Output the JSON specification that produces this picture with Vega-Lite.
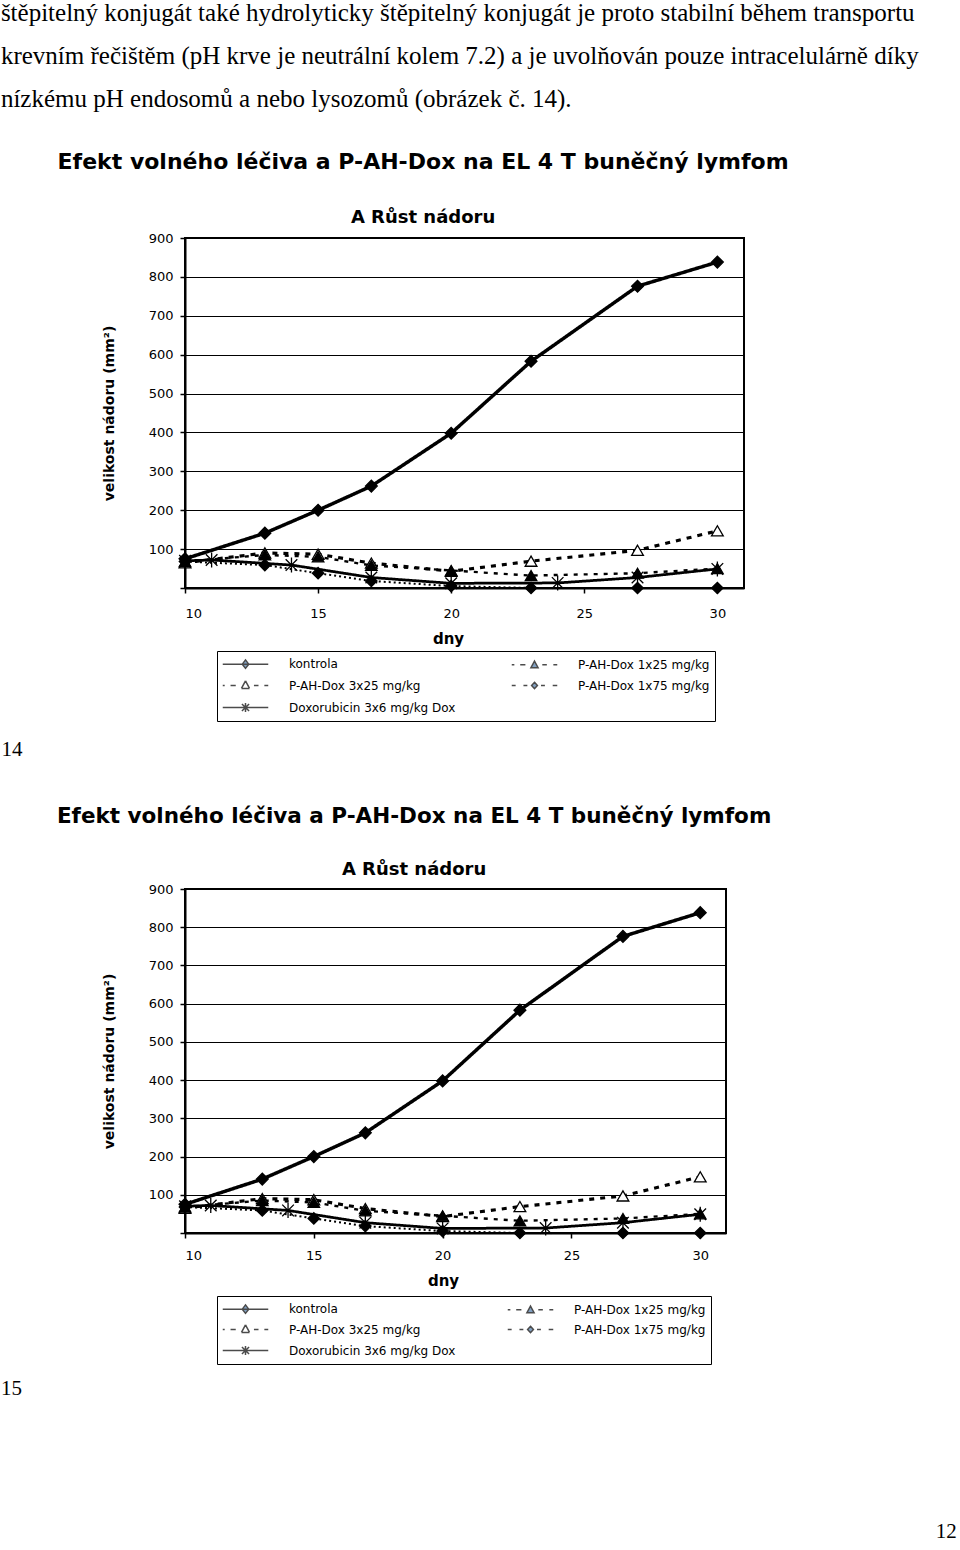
{
  "$schema": "https://vega.github.io/schema/vega-lite/v6.json",
  "background": "white",
  "padding": {"left": 0, "top": 1, "right": 0, "bottom": 0},
  "datasets": {
    "growth": [
      {"series": "kontrola", "day": 10, "value": 75},
      {"series": "kontrola", "day": 13, "value": 141},
      {"series": "kontrola", "day": 15, "value": 200},
      {"series": "kontrola", "day": 17, "value": 262},
      {"series": "kontrola", "day": 20, "value": 398},
      {"series": "kontrola", "day": 23, "value": 583},
      {"series": "kontrola", "day": 27, "value": 776},
      {"series": "kontrola", "day": 30, "value": 838},
      {"series": "P-AH-Dox 3x25 mg/kg", "day": 10, "value": 65},
      {"series": "P-AH-Dox 3x25 mg/kg", "day": 13, "value": 90},
      {"series": "P-AH-Dox 3x25 mg/kg", "day": 15, "value": 87},
      {"series": "P-AH-Dox 3x25 mg/kg", "day": 17, "value": 64},
      {"series": "P-AH-Dox 3x25 mg/kg", "day": 20, "value": 43},
      {"series": "P-AH-Dox 3x25 mg/kg", "day": 23, "value": 69},
      {"series": "P-AH-Dox 3x25 mg/kg", "day": 27, "value": 97},
      {"series": "P-AH-Dox 3x25 mg/kg", "day": 30, "value": 147},
      {"series": "P-AH-Dox 1x25 mg/kg", "day": 10, "value": 68},
      {"series": "P-AH-Dox 1x25 mg/kg", "day": 13, "value": 85},
      {"series": "P-AH-Dox 1x25 mg/kg", "day": 15, "value": 80},
      {"series": "P-AH-Dox 1x25 mg/kg", "day": 17, "value": 58},
      {"series": "P-AH-Dox 1x25 mg/kg", "day": 20, "value": 45},
      {"series": "P-AH-Dox 1x25 mg/kg", "day": 23, "value": 32},
      {"series": "P-AH-Dox 1x25 mg/kg", "day": 27, "value": 38},
      {"series": "P-AH-Dox 1x25 mg/kg", "day": 30, "value": 50},
      {"series": "P-AH-Dox 1x75 mg/kg", "day": 10, "value": 68},
      {"series": "P-AH-Dox 1x75 mg/kg", "day": 13, "value": 59},
      {"series": "P-AH-Dox 1x75 mg/kg", "day": 15, "value": 38},
      {"series": "P-AH-Dox 1x75 mg/kg", "day": 17, "value": 18},
      {"series": "P-AH-Dox 1x75 mg/kg", "day": 20, "value": 5},
      {"series": "P-AH-Dox 1x75 mg/kg", "day": 23, "value": 0},
      {"series": "P-AH-Dox 1x75 mg/kg", "day": 27, "value": 0},
      {"series": "P-AH-Dox 1x75 mg/kg", "day": 30, "value": 0},
      {"series": "Doxorubicin 3x6 mg/kg Dox", "day": 10, "value": 70},
      {"series": "Doxorubicin 3x6 mg/kg Dox", "day": 11, "value": 72},
      {"series": "Doxorubicin 3x6 mg/kg Dox", "day": 14, "value": 59},
      {"series": "Doxorubicin 3x6 mg/kg Dox", "day": 17, "value": 27},
      {"series": "Doxorubicin 3x6 mg/kg Dox", "day": 20, "value": 12},
      {"series": "Doxorubicin 3x6 mg/kg Dox", "day": 24, "value": 13},
      {"series": "Doxorubicin 3x6 mg/kg Dox", "day": 27, "value": 27},
      {"series": "Doxorubicin 3x6 mg/kg Dox", "day": 30, "value": 49}
    ]
  },
  "config": {
    "view": {"stroke": "black", "strokeWidth": 2},
    "axis": {
      "labelFont": "DejaVu Sans", "labelFontSize": 13, "labelColor": "black", "labelOverlap": false,
      "tickColor": "black", "tickSize": 5, "tickWidth": 1.5,
      "domainColor": "black", "domainWidth": 2,
      "titleFont": "DejaVu Sans", "titleFontWeight": "bold", "titleColor": "black"
    },
    "legend": {
      "labelFont": "DejaVu Sans", "labelFontSize": 12, "labelColor": "black"
    }
  },
  "title": {"text": "12", "orient": "bottom", "anchor": "end", "frame": "bounds", "font": "Liberation Serif", "fontSize": 21, "fontWeight": "normal", "color": "black", "offset": 122, "dx": 38},
  "vconcat": [
    {
      "title": {
        "text": [
          "štěpitelný konjugát také hydrolyticky štěpitelný konjugát je proto stabilní během transportu",
          "krevním řečištěm (pH krve je neutrální kolem 7.2) a je uvolňován pouze intracelulárně díky",
          "nízkému pH endosomů a nebo lysozomů (obrázek č. 14)."
        ],
        "anchor": "start", "frame": "bounds", "font": "Liberation Serif", "fontSize": 25, "fontWeight": "normal",
        "lineHeight": 43, "color": "black", "offset": 38, "dx": 0
      },
      "spacing": 44,
      "vconcat": [
        {
          "title": {"text": "14", "orient": "bottom", "anchor": "start", "frame": "bounds", "font": "Liberation Serif", "fontSize": 21, "fontWeight": "normal", "color": "black", "offset": 16, "dx": -55},
          "vconcat": [
            {
              "width": 559, "height": 350,
              "data": {"name": "growth"},
              "title": {
                "text": "Efekt volného léčiva a P-AH-Dox na EL 4 T buněčný lymfom",
                "subtitle": "A   Růst nádoru",
                "anchor": "middle", "frame": "bounds",
                "font": "DejaVu Sans", "fontSize": 22, "fontWeight": "bold", "color": "black",
                "subtitleFont": "DejaVu Sans", "subtitleFontSize": 18, "subtitleFontWeight": "bold", "subtitleColor": "black",
                "subtitlePadding": 35, "offset": 4
              },
              "encoding": {
                "x": {"field": "day", "type": "quantitative", "scale": {"domain": [10, 31], "nice": false, "zero": false},
                  "axis": {"values": [10, 15, 20, 25, 30], "grid": false, "title": "dny", "titleFontSize": 15, "labelPadding": 14, "titlePadding": 11, "titleX": 263}},
                "y": {"field": "value", "type": "quantitative", "scale": {"domain": [0, 900], "nice": false},
                  "axis": {"values": [0, 100, 200, 300, 400, 500, 600, 700, 800, 900], "tickCount": 10, "labelExpr": "datum.value == 0 ? '' : datum.label",
                    "grid": true, "gridColor": "black", "gridWidth": 1, "title": "velikost nádoru (mm²)", "titleFontSize": 14, "titlePadding": 32, "labelPadding": 7}}
              },
              "layer": [
                {
                  "mark": {"type": "line", "color": "black"},
                  "encoding": {
                    "strokeDash": {"field": "series", "type": "nominal", "legend": null,
                      "scale": {"domain": ["kontrola", "P-AH-Dox 3x25 mg/kg", "Doxorubicin 3x6 mg/kg Dox", "P-AH-Dox 1x25 mg/kg", "P-AH-Dox 1x75 mg/kg"],
                        "range": [[1, 0], [5, 6], [1, 0], [4, 6], [2, 3]]}},
                    "strokeWidth": {"field": "series", "type": "nominal", "legend": null,
                      "scale": {"domain": ["kontrola", "P-AH-Dox 3x25 mg/kg", "Doxorubicin 3x6 mg/kg Dox", "P-AH-Dox 1x25 mg/kg", "P-AH-Dox 1x75 mg/kg"],
                        "range": [3.5, 2, 2, 2.5, 2.5]}}
                  }
                },
                {
                  "mark": {"type": "point", "filled": true, "stroke": "black", "strokeWidth": 1.3, "opacity": 1},
                  "encoding": {
                    "shape": {"field": "series", "type": "nominal", "legend": null,
                      "scale": {"domain": ["kontrola", "P-AH-Dox 3x25 mg/kg", "Doxorubicin 3x6 mg/kg Dox", "P-AH-Dox 1x25 mg/kg", "P-AH-Dox 1x75 mg/kg"],
                        "range": ["diamond", "triangle-up", "M-1,-1L1,1M-1,1L1,-1M0,-1.3L0,1.3", "triangle-up", "diamond"]}},
                    "fill": {"field": "series", "type": "nominal", "legend": null,
                      "scale": {"domain": ["kontrola", "P-AH-Dox 3x25 mg/kg", "Doxorubicin 3x6 mg/kg Dox", "P-AH-Dox 1x25 mg/kg", "P-AH-Dox 1x75 mg/kg"],
                        "range": ["black", "white", "black", "black", "black"]}},
                    "size": {"field": "series", "type": "nominal", "legend": null,
                      "scale": {"domain": ["kontrola", "P-AH-Dox 3x25 mg/kg", "Doxorubicin 3x6 mg/kg Dox", "P-AH-Dox 1x25 mg/kg", "P-AH-Dox 1x75 mg/kg"],
                        "range": [140, 130, 150, 50, 60]}}
                  }
                },
                {
                  "transform": [{"filter": "false"}],
                  "mark": {"type": "point", "filled": true, "stroke": "black", "strokeWidth": 1.2},
                  "encoding": {
                    "shape": {"field": "series", "type": "nominal",
                      "scale": {"domain": ["kontrola", "P-AH-Dox 3x25 mg/kg", "Doxorubicin 3x6 mg/kg Dox", "P-AH-Dox 1x25 mg/kg", "P-AH-Dox 1x75 mg/kg"],
                        "range": [
                          "M-3.5,0L3.5,0M0,-0.65L0.5,0L0,0.65L-0.5,0Z",
                          "M-3.5,0L-3.2,0M-2.3,0L-1.5,0M1.3,0L2.0,0M2.9,0L3.5,0M0,-0.7L0.62,0.45M0.62,0.45L-0.62,0.45M-0.62,0.45L0,-0.7",
                          "M-3.5,0L3.5,0M-0.55,-0.55L0.55,0.55M-0.55,0.55L0.55,-0.55M0,-0.7L0,0.7",
                          "M-3.5,0L-3.1,0M-2.2,0L-1.4,0M1.2,0L1.9,0M2.9,0L3.5,0M0,-0.55L0.55,0.45L-0.55,0.45Z",
                          "M-3.5,0L-2.9,0M-1.7,0L-1.1,0M1.0,0L1.6,0M2.8,0L3.5,0M0,-0.5L0.45,0L0,0.5L-0.45,0Z"
                        ]},
                      "legend": {"title": null, "orient": "none", "legendX": 32, "legendY": 413, "columns": 2, "gridAlign": "all", "columnPadding": 52, "rowPadding": 5,
                        "padding": 5, "strokeColor": "black", "fillColor": "white", "symbolSize": 169, "symbolOffset": 16, "labelOffset": 36, "labelLimit": 300,
                        "encode": {"symbols": {"stroke": {"value": "black"}, "strokeWidth": {"value": 1.3}, "opacity": {"value": 1},
                          "fill": {"condition": {"test": "datum.value === 'P-AH-Dox 3x25 mg/kg'", "value": "white"}, "value": "black"}}}}}
                  }
                }
              ],
              "resolve": {"scale": {"shape": "independent", "fill": "independent", "size": "independent", "strokeDash": "independent", "strokeWidth": "independent"}}
            }
          ]
        },
        {
          "title": {"text": "15", "orient": "bottom", "anchor": "start", "frame": "bounds", "font": "Liberation Serif", "fontSize": 21, "fontWeight": "normal", "color": "black", "offset": 12, "dx": -55},
          "vconcat": [
            {
              "width": 541, "height": 344,
              "data": {"name": "growth"},
              "title": {
                "text": "Efekt volného léčiva a P-AH-Dox na EL 4 T buněčný lymfom",
                "subtitle": "A   Růst nádoru",
                "anchor": "middle", "frame": "bounds",
                "font": "DejaVu Sans", "fontSize": 21.5, "fontWeight": "bold", "color": "black",
                "subtitleFont": "DejaVu Sans", "subtitleFontSize": 18, "subtitleFontWeight": "bold", "subtitleColor": "black",
                "subtitlePadding": 34, "offset": 4
              },
              "encoding": {
                "x": {"field": "day", "type": "quantitative", "scale": {"domain": [10, 31], "nice": false, "zero": false},
                  "axis": {"values": [10, 15, 20, 25, 30], "grid": false, "title": "dny", "titleFontSize": 15, "labelPadding": 11, "titlePadding": 11, "titleX": 258}},
                "y": {"field": "value", "type": "quantitative", "scale": {"domain": [0, 900], "nice": false},
                  "axis": {"values": [0, 100, 200, 300, 400, 500, 600, 700, 800, 900], "tickCount": 10, "labelExpr": "datum.value == 0 ? '' : datum.label",
                    "grid": true, "gridColor": "black", "gridWidth": 1, "title": "velikost nádoru (mm²)", "titleFontSize": 14, "titlePadding": 32, "labelPadding": 7}}
              },
              "layer": [
                {
                  "mark": {"type": "line", "color": "black"},
                  "encoding": {
                    "strokeDash": {"field": "series", "type": "nominal", "legend": null,
                      "scale": {"domain": ["kontrola", "P-AH-Dox 3x25 mg/kg", "Doxorubicin 3x6 mg/kg Dox", "P-AH-Dox 1x25 mg/kg", "P-AH-Dox 1x75 mg/kg"],
                        "range": [[1, 0], [5, 6], [1, 0], [4, 6], [2, 3]]}},
                    "strokeWidth": {"field": "series", "type": "nominal", "legend": null,
                      "scale": {"domain": ["kontrola", "P-AH-Dox 3x25 mg/kg", "Doxorubicin 3x6 mg/kg Dox", "P-AH-Dox 1x25 mg/kg", "P-AH-Dox 1x75 mg/kg"],
                        "range": [3.5, 2, 2, 2.5, 2.5]}}
                  }
                },
                {
                  "mark": {"type": "point", "filled": true, "stroke": "black", "strokeWidth": 1.3, "opacity": 1},
                  "encoding": {
                    "shape": {"field": "series", "type": "nominal", "legend": null,
                      "scale": {"domain": ["kontrola", "P-AH-Dox 3x25 mg/kg", "Doxorubicin 3x6 mg/kg Dox", "P-AH-Dox 1x25 mg/kg", "P-AH-Dox 1x75 mg/kg"],
                        "range": ["diamond", "triangle-up", "M-1,-1L1,1M-1,1L1,-1M0,-1.3L0,1.3", "triangle-up", "diamond"]}},
                    "fill": {"field": "series", "type": "nominal", "legend": null,
                      "scale": {"domain": ["kontrola", "P-AH-Dox 3x25 mg/kg", "Doxorubicin 3x6 mg/kg Dox", "P-AH-Dox 1x25 mg/kg", "P-AH-Dox 1x75 mg/kg"],
                        "range": ["black", "white", "black", "black", "black"]}},
                    "size": {"field": "series", "type": "nominal", "legend": null,
                      "scale": {"domain": ["kontrola", "P-AH-Dox 3x25 mg/kg", "Doxorubicin 3x6 mg/kg Dox", "P-AH-Dox 1x25 mg/kg", "P-AH-Dox 1x75 mg/kg"],
                        "range": [140, 130, 150, 50, 60]}}
                  }
                },
                {
                  "transform": [{"filter": "false"}],
                  "mark": {"type": "point", "filled": true, "stroke": "black", "strokeWidth": 1.2},
                  "encoding": {
                    "shape": {"field": "series", "type": "nominal",
                      "scale": {"domain": ["kontrola", "P-AH-Dox 3x25 mg/kg", "Doxorubicin 3x6 mg/kg Dox", "P-AH-Dox 1x25 mg/kg", "P-AH-Dox 1x75 mg/kg"],
                        "range": [
                          "M-3.5,0L3.5,0M0,-0.65L0.5,0L0,0.65L-0.5,0Z",
                          "M-3.5,0L-3.2,0M-2.3,0L-1.5,0M1.3,0L2.0,0M2.9,0L3.5,0M0,-0.7L0.62,0.45M0.62,0.45L-0.62,0.45M-0.62,0.45L0,-0.7",
                          "M-3.5,0L3.5,0M-0.55,-0.55L0.55,0.55M-0.55,0.55L0.55,-0.55M0,-0.7L0,0.7",
                          "M-3.5,0L-3.1,0M-2.2,0L-1.4,0M1.2,0L1.9,0M2.9,0L3.5,0M0,-0.55L0.55,0.45L-0.55,0.45Z",
                          "M-3.5,0L-2.9,0M-1.7,0L-1.1,0M1.0,0L1.6,0M2.8,0L3.5,0M0,-0.5L0.45,0L0,0.5L-0.45,0Z"
                        ]},
                      "legend": {"title": null, "orient": "none", "legendX": 32, "legendY": 407, "columns": 2, "gridAlign": "all", "columnPadding": 48, "rowPadding": 4,
                        "padding": 5, "strokeColor": "black", "fillColor": "white", "symbolSize": 169, "symbolOffset": 16, "labelOffset": 36, "labelLimit": 300,
                        "encode": {"symbols": {"stroke": {"value": "black"}, "strokeWidth": {"value": 1.3}, "opacity": {"value": 1},
                          "fill": {"condition": {"test": "datum.value === 'P-AH-Dox 3x25 mg/kg'", "value": "white"}, "value": "black"}}}}}
                  }
                }
              ],
              "resolve": {"scale": {"shape": "independent", "fill": "independent", "size": "independent", "strokeDash": "independent", "strokeWidth": "independent"}}
            }
          ]
        }
      ]
    }
  ]
}
